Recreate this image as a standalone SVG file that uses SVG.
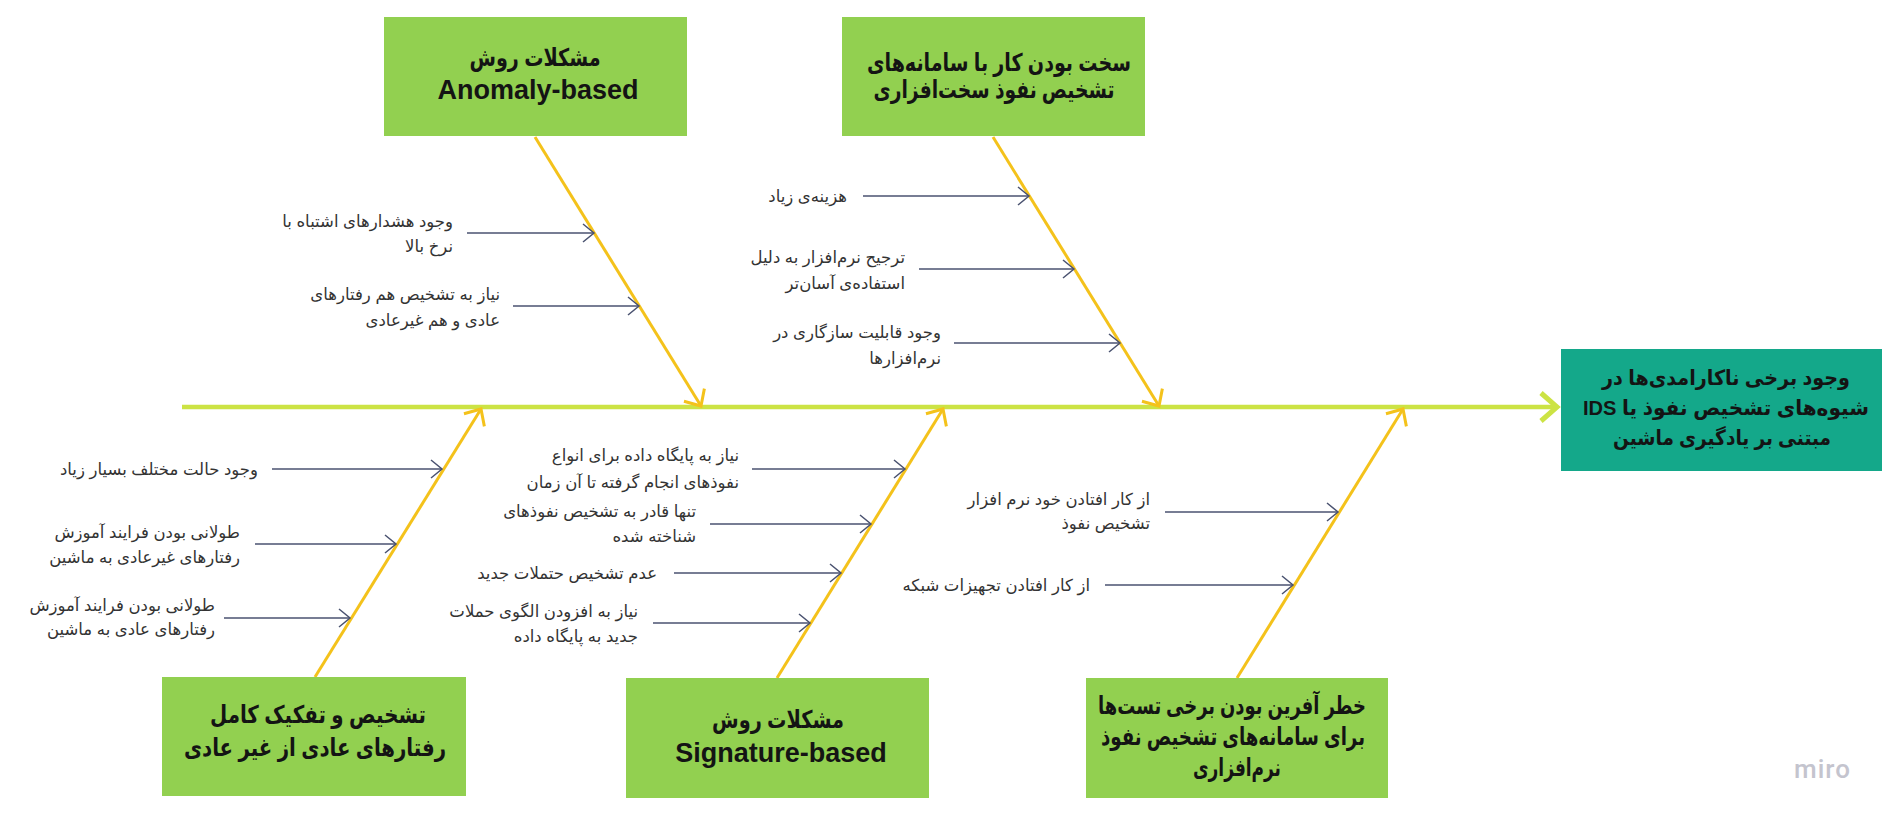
<svg xmlns="http://www.w3.org/2000/svg" width="1899" height="822" viewBox="0 0 1899 822">
<defs>
<style>
.box{fill:#92d050;}
.head{fill:#14a88a;}
.t{font-family:"Liberation Sans","DejaVu Sans",sans-serif;font-weight:bold;fill:#141414;font-size:24.5px;}
.th{font-family:"Liberation Sans","DejaVu Sans",sans-serif;font-weight:bold;fill:#141414;font-size:21px;}
.en{font-family:"Liberation Sans",Arial,sans-serif;font-weight:bold;fill:#141414;font-size:27px;}
.l{font-family:"Liberation Sans","DejaVu Sans",sans-serif;fill:#333333;font-size:16.5px;}
.spine{stroke:#cce344;stroke-width:4.5;fill:none;}
.bone{stroke:#f4c21b;stroke-width:3;fill:none;}
.sub{stroke:#4a5270;stroke-width:1.5;fill:none;}
</style>
<marker id="aSpine" markerUnits="userSpaceOnUse" viewBox="-20 -18 24 36" refX="0" refY="0" markerWidth="24" markerHeight="36" orient="auto">
<path d="M-16,-14 L0,0 L-16,14" fill="none" stroke="#cce344" stroke-width="5"/>
</marker>
<marker id="aBone" markerUnits="userSpaceOnUse" viewBox="-16 -15 20 30" refX="0" refY="0" markerWidth="20" markerHeight="30" orient="auto">
<path d="M-13,-12 L0,0 L-13,12" fill="none" stroke="#f4c21b" stroke-width="3"/>
</marker>
<marker id="aSub" markerUnits="userSpaceOnUse" viewBox="-13 -11 16 22" refX="0" refY="0" markerWidth="16" markerHeight="22" orient="auto">
<path d="M-11,-9 L0,0 L-11,9" fill="none" stroke="#4a5270" stroke-width="1.5"/>
</marker>
</defs>
<rect width="1899" height="822" fill="#ffffff"/>

<g id="connectors">
<line class="spine" x1="182" y1="407" x2="1557" y2="407" marker-end="url(#aSpine)"/>
<line class="bone" x1="535" y1="137" x2="701" y2="406" marker-end="url(#aBone)"/>
<line class="bone" x1="993" y1="137" x2="1159" y2="406" marker-end="url(#aBone)"/>
<line class="bone" x1="315" y1="677" x2="481" y2="409" marker-end="url(#aBone)"/>
<line class="bone" x1="777" y1="678" x2="943" y2="409" marker-end="url(#aBone)"/>
<line class="bone" x1="1237" y1="678" x2="1403" y2="409" marker-end="url(#aBone)"/>
<line class="sub" x1="467" y1="233" x2="594" y2="233" marker-end="url(#aSub)"/>
<line class="sub" x1="513" y1="306" x2="639" y2="306" marker-end="url(#aSub)"/>
<line class="sub" x1="863" y1="196" x2="1029" y2="196" marker-end="url(#aSub)"/>
<line class="sub" x1="919" y1="269" x2="1074" y2="269" marker-end="url(#aSub)"/>
<line class="sub" x1="954" y1="343" x2="1120" y2="343" marker-end="url(#aSub)"/>
<line class="sub" x1="272" y1="469" x2="442" y2="469" marker-end="url(#aSub)"/>
<line class="sub" x1="255" y1="544" x2="396" y2="544" marker-end="url(#aSub)"/>
<line class="sub" x1="224" y1="618" x2="350" y2="618" marker-end="url(#aSub)"/>
<line class="sub" x1="752" y1="469" x2="905" y2="469" marker-end="url(#aSub)"/>
<line class="sub" x1="710" y1="524" x2="871" y2="524" marker-end="url(#aSub)"/>
<line class="sub" x1="674" y1="573" x2="841" y2="573" marker-end="url(#aSub)"/>
<line class="sub" x1="653" y1="623" x2="810" y2="623" marker-end="url(#aSub)"/>
<line class="sub" x1="1165" y1="512" x2="1338" y2="512" marker-end="url(#aSub)"/>
<line class="sub" x1="1105" y1="585" x2="1293" y2="585" marker-end="url(#aSub)"/>
</g>

<g id="effect">
<rect class="head" x="1561" y="349" width="321" height="122"/>
<text class="th" x="1726" y="377" text-anchor="middle" dominant-baseline="central" direction="rtl" textLength="248" lengthAdjust="spacingAndGlyphs">وجود برخی ناکارامدی&#x200C;ها در</text>
<text class="th" x="1726" y="407" text-anchor="middle" dominant-baseline="central" direction="rtl" textLength="286" lengthAdjust="spacingAndGlyphs">شیوه&#x200C;های تشخیص نفوذ یا IDS</text>
<text class="th" x="1722" y="437" text-anchor="middle" dominant-baseline="central" direction="rtl" textLength="218" lengthAdjust="spacingAndGlyphs">مبتنی بر یادگیری ماشین</text>
</g>

<g id="cause-anomaly">
<rect class="box" x="384" y="17" width="303" height="119"/>
<text class="t" x="535" y="57" text-anchor="middle" dominant-baseline="central" direction="rtl" textLength="131" lengthAdjust="spacingAndGlyphs">مشکلات روش</text>
<text class="en" x="538" y="99" text-anchor="middle">Anomaly-based</text>
</g>

<g id="cause-hardware">
<rect class="box" x="842" y="17" width="303" height="119"/>
<text class="t" x="999" y="62" text-anchor="middle" dominant-baseline="central" direction="rtl" textLength="264" lengthAdjust="spacingAndGlyphs">سخت بودن کار با سامانه&#x200C;های</text>
<text class="t" x="994" y="89" text-anchor="middle" dominant-baseline="central" direction="rtl" textLength="241" lengthAdjust="spacingAndGlyphs">تشخیص نفوذ سخت&#x200C;افزاری</text>
</g>

<g id="cause-separation">
<rect class="box" x="162" y="677" width="304" height="119"/>
<text class="t" x="318" y="714" text-anchor="middle" dominant-baseline="central" direction="rtl" textLength="216" lengthAdjust="spacingAndGlyphs">تشخیص و تفکیک کامل</text>
<text class="t" x="315" y="747" text-anchor="middle" dominant-baseline="central" direction="rtl" textLength="262" lengthAdjust="spacingAndGlyphs">رفتارهای عادی از غیر عادی</text>
</g>

<g id="cause-signature">
<rect class="box" x="626" y="678" width="303" height="120"/>
<text class="t" x="778" y="719" text-anchor="middle" dominant-baseline="central" direction="rtl" textLength="132" lengthAdjust="spacingAndGlyphs">مشکلات روش</text>
<text class="en" x="781" y="762" text-anchor="middle">Signature-based</text>
</g>

<g id="cause-tests">
<rect class="box" x="1086" y="678" width="302" height="120"/>
<text class="t" x="1232" y="705" text-anchor="middle" dominant-baseline="central" direction="rtl" textLength="268" lengthAdjust="spacingAndGlyphs">خطر آفرین بودن برخی تست&#x200C;ها</text>
<text class="t" x="1233" y="736" text-anchor="middle" dominant-baseline="central" direction="rtl" textLength="264" lengthAdjust="spacingAndGlyphs">برای سامانه&#x200C;های تشخیص نفوذ</text>
<text class="t" x="1237" y="767" text-anchor="middle" dominant-baseline="central" direction="rtl" textLength="88" lengthAdjust="spacingAndGlyphs">نرم&#x200C;افزاری</text>
</g>

<g id="labels">
<text class="l" x="453" y="221" dominant-baseline="central" direction="rtl" text-anchor="start">وجود هشدارهای اشتباه با</text>
<text class="l" x="453" y="246" dominant-baseline="central" direction="rtl" text-anchor="start">نرخ بالا</text>
<text class="l" x="500" y="294" dominant-baseline="central" direction="rtl" text-anchor="start">نیاز به تشخیص هم رفتارهای</text>
<text class="l" x="500" y="320" dominant-baseline="central" direction="rtl" text-anchor="start">عادی و هم غیرعادی</text>
<text class="l" x="847" y="196" dominant-baseline="central" direction="rtl" text-anchor="start">هزینه&#x200C;ی زیاد</text>
<text class="l" x="905" y="257" dominant-baseline="central" direction="rtl" text-anchor="start">ترجیح نرم&#x200C;افزار به دلیل</text>
<text class="l" x="905" y="283" dominant-baseline="central" direction="rtl" text-anchor="start">استفاده&#x200C;ی آسان&#x200C;تر</text>
<text class="l" x="941" y="332" dominant-baseline="central" direction="rtl" text-anchor="start">وجود قابلیت سازگاری در</text>
<text class="l" x="941" y="358" dominant-baseline="central" direction="rtl" text-anchor="start">نرم&#x200C;افزارها</text>
<text class="l" x="258" y="469" dominant-baseline="central" direction="rtl" text-anchor="start">وجود حالت مختلف بسیار زیاد</text>
<text class="l" x="240" y="532" dominant-baseline="central" direction="rtl" text-anchor="start">طولانی بودن فرایند آموزش</text>
<text class="l" x="240" y="557" dominant-baseline="central" direction="rtl" text-anchor="start">رفتارهای غیرعادی به ماشین</text>
<text class="l" x="215" y="605" dominant-baseline="central" direction="rtl" text-anchor="start">طولانی بودن فرایند آموزش</text>
<text class="l" x="215" y="629" dominant-baseline="central" direction="rtl" text-anchor="start">رفتارهای عادی به ماشین</text>
<text class="l" x="739" y="455" dominant-baseline="central" direction="rtl" text-anchor="start">نیاز به پایگاه داده برای انواع</text>
<text class="l" x="739" y="482" dominant-baseline="central" direction="rtl" text-anchor="start">نفوذهای انجام گرفته تا آن زمان</text>
<text class="l" x="696" y="511" dominant-baseline="central" direction="rtl" text-anchor="start">تنها قادر به تشخیص نفوذهای</text>
<text class="l" x="696" y="536" dominant-baseline="central" direction="rtl" text-anchor="start">شناخته شده</text>
<text class="l" x="657" y="573" dominant-baseline="central" direction="rtl" text-anchor="start">عدم تشخیص حتملات جدید</text>
<text class="l" x="638" y="611" dominant-baseline="central" direction="rtl" text-anchor="start">نیاز به افزودن الگوی حملات</text>
<text class="l" x="638" y="636" dominant-baseline="central" direction="rtl" text-anchor="start">جدید به پایگاه داده</text>
<text class="l" x="1150" y="499" dominant-baseline="central" direction="rtl" text-anchor="start">از کار افتادن خود نرم افزار</text>
<text class="l" x="1150" y="523" dominant-baseline="central" direction="rtl" text-anchor="start">تشخیص نفوذ</text>
<text class="l" x="1090" y="585" dominant-baseline="central" direction="rtl" text-anchor="start">از کار افتادن تجهیزات شبکه</text>
</g>

<text x="1794" y="778" font-family="Roboto,'Liberation Sans',sans-serif" font-size="26" font-weight="500" letter-spacing="1" fill="#c4c4ce">miro</text>
</svg>
